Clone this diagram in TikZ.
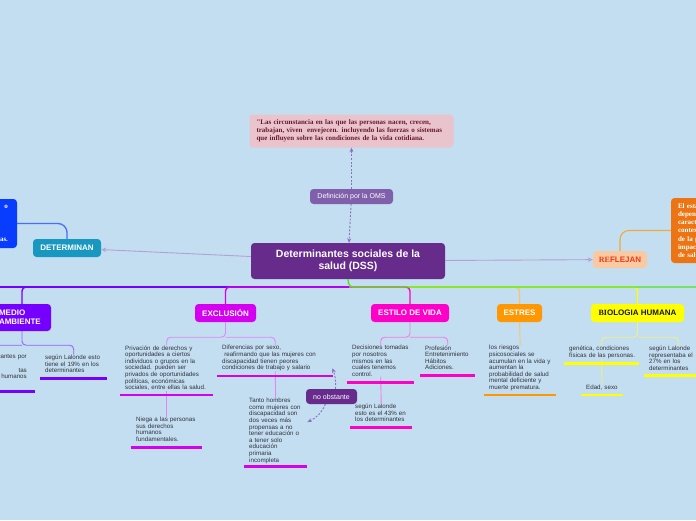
\documentclass[tikz,border=0pt]{standalone}
\usepackage{fontspec}
\setmainfont{Liberation Sans}
\newfontfamily\seriffam{Liberation Serif}
\usetikzlibrary{arrows.meta}
\definecolor{bgc}{RGB}{195,222,240}
\definecolor{quotefill}{RGB}{233,196,204}
\definecolor{quotetext}{RGB}{105,25,45}
\definecolor{defc}{RGB}{128,96,170}
\definecolor{dssc}{RGB}{103,43,140}
\definecolor{detc}{RGB}{24,152,192}
\definecolor{bluec}{RGB}{8,60,255}
\definecolor{bluel}{RGB}{70,110,255}
\definecolor{refc}{RGB}{248,201,162}
\definecolor{reftext}{RGB}{235,60,15}
\definecolor{orangec}{RGB}{236,116,18}
\definecolor{orangel}{RGB}{240,170,60}
\definecolor{medc}{RGB}{118,0,255}
\definecolor{excc}{RGB}{214,0,240}
\definecolor{estc}{RGB}{255,0,200}
\definecolor{strc}{RGB}{255,152,0}
\definecolor{bioc}{RGB}{255,255,0}
\definecolor{greenc}{RGB}{80,228,30}
\definecolor{relc}{RGB}{140,112,190}
\definecolor{arrc}{RGB}{178,160,215}
\definecolor{txtc}{RGB}{50,50,60}
\definecolor{medlc}{RGB}{150,95,255}
\definecolor{exclc}{RGB}{226,135,250}
\definecolor{estlc}{RGB}{246,120,230}
\definecolor{strlc}{RGB}{250,195,110}
\definecolor{biolc}{RGB}{240,240,130}
\definecolor{biotext}{RGB}{25,25,25}
\newcommand\fsmall{\fontsize{6.2}{6.6}\selectfont}
\newcommand\flab{\bfseries\fontsize{8}{9}\selectfont}
\newcommand\fser{\seriffam\bfseries\fontsize{7}{8.2}\selectfont}
\newcommand\ulin[3]{\draw[line width=2.6pt,#2] ([xshift=-5pt]#1.west |- 0,#3) -- ([xshift=5pt]#1.east |- 0,#3);}
\tikzset{
  box/.style={rounded corners=3.5pt, inner sep=0pt, align=center, text=white, font=\flab},
  txt/.style={inner sep=0pt, anchor=north west, align=left, text=txtc, font=\fsmall,
    execute at begin node={\rightskip=0pt plus 1fil minus 30pt\relax}},
  mainln/.style={line width=1.4pt, rounded corners=4pt},
  subln/.style={line width=0.9pt, rounded corners=4pt},
  rel/.style={relc, line width=0.9pt, dash pattern=on 2pt off 1.6pt, -{Stealth[length=4.5pt,width=4pt]}},
  link/.style={arrc, line width=0.9pt, -{Stealth[length=5pt,width=4.5pt]}}
}
\begin{document}
\begin{tikzpicture}[x=1pt,y=-1pt]
\useasboundingbox (0,0) rectangle (696,520);
\fill[bgc] (0,0) rectangle (696,520);
\clip (0,0) rectangle (696,520);

% ---- top part
\node[box, fill=quotefill, text=quotetext, minimum width=204, minimum height=33, text width=190, align=left, font=\fser] (quote) at (351.5,131)
  {"Las circunstancia en las que las personas nacen, crecen,\\trabajan, viven\ \ envejecen. incluyendo las fuerzas o sistemas\\que influyen sobre las condiciones de la vida cotidiana.};
\node[box, fill=defc, minimum width=83, minimum height=15, font=\fontsize{7}{8}\selectfont] (def) at (351.5,196.5) {Definición por la OMS};
\node[box, fill=dssc, minimum width=194, minimum height=36, font=\bfseries\fontsize{10.5}{11.7}\selectfont] (dss) at (348,261) {Determinantes sociales de la\\salud (DSS)};
\node[box, fill=detc, minimum width=68, minimum height=18] (det) at (67,248) {DETERMINAN};
\node[box, fill=bluec, minimum width=40, minimum height=49, text width=22, align=right, font=\fser] (blue) at (-3,223.5) {o\\\mbox{}\\\mbox{}\\\mbox{}\\as.};
\node[box, fill=refc, text=reftext, minimum width=54, minimum height=17] (ref) at (620,259.5) {{\seriffam RE}FLEJAN};
\node[box, fill=orangec, minimum width=60, minimum height=65, text width=46, align=left, font=\fser] (org) at (701,230.5)
  {El estado\\dependerá\\características\\contexto\\de la persona\\impactando\\de salud};

\draw[rel] (def) -- (quote);
\draw[rel] (def) -- (dss);
\draw[link] (dss) -- (det);
\draw[link] (dss) -- (ref);
\draw[bluel, line width=1.3pt, rounded corners=9pt] (det.north) |- (blue.east);
\draw[orangel, line width=1.1pt, rounded corners=9pt] (ref.north) |- (org.west);

% ---- main branches
\node[box, fill=medc, minimum width=58, minimum height=27, text width=46, align=left] (medio) at (22,317.5) {MEDIO\\AMBIENTE};
\node[box, fill=excc, minimum width=61, minimum height=18] (excl) at (225.5,313) {EXCLUSIÓN};
\node[box, fill=estc, minimum width=78, minimum height=18] (estilo) at (410,313) {ESTILO DE VIDA};
\node[box, fill=strc, minimum width=45, minimum height=18] (estres) at (519.5,313) {ESTRES};
\node[box, fill=bioc, text=biotext, minimum width=93, minimum height=18] (bio) at (637.5,313) {{\seriffam BI}OLOGIA HUMANA};
\node[box, fill=dssc, minimum width=51, minimum height=15, font=\fontsize{7}{8}\selectfont] (nob) at (331.5,396.5) {no obstante};

\coordinate (hub) at (349,287);
\coordinate (leftend) at (-5,287);
\coordinate (rightend) at (701,287);

\draw[mainln, medc] (leftend) -- (hub);
\draw[mainln, medc] (hub) -| (medio.north);
\draw[mainln, strlc] (hub) -| (estres.north);
\draw[mainln, bioc] (hub) -| (bio.north);
\draw[mainln, estc] (hub) -| (estilo.north);
\draw[mainln, excc] (hub) -| (excl.north);
\draw[mainln, greenc] (dss.south) -- (hub) -- (rightend);

% ---- text leaves
\node[txt, anchor=north east, text width=80, align=right, execute at begin node={\rightskip=0pt\relax}] (mleft) at (27,354.7) {cantes por\\\mbox{}\\tas\\humanos\\\mbox{}};
\node[txt, text width=57] (m19) at (45,354.7) {según Lalonde esto\\tiene el 19\% en los\\determinantes};
\node[txt, text width=83] (priv) at (125,345.3) {Privación de derechos y\\oportunidades a ciertos\\individuos o grupos en la\\sociedad. pueden ser\\privados de oportunidades\\políticas, económicas\\sociales, entre ellas la salud.};
\node[txt, text width=61] (niega) at (136,417) {Niega a las personas\\sus derechos\\humanos\\fundamentales.};
\node[txt, text width=106] (difer) at (222,345.3) {Diferencias por sexo,\\\ reafirmando que las mujeres con\\discapacidad tienen peores\\condiciones de trabajo y salario};
\node[txt, text width=53] (tanto) at (249,398) {Tanto hombres\\como mujeres con\\discapacidad son\\dos veces más\\propensas a no\\tener educación o\\a tener solo\\educación\\primaria\\incompleta};
\node[txt, text width=57] (decis) at (352,345.3) {Decisiones tomadas\\por nosotros\\mismos en las\\cuales tenemos\\control.};
\node[txt, text width=45] (profes) at (425,345.3) {Profesión\\Entretenimiento\\Hábitos\\Adiciones.};
\node[txt, text width=52] (lal43) at (355,403.7) {según Lalonde\\esto es el 43\% en\\los determinantes};
\node[txt, text width=62] (strtxt) at (489,345.3) {los riesgos\\psicosociales se\\acumulan en la vida y\\aumentan la\\probabilidad de salud\\mental deficiente y\\muerte prematura.};
\node[txt, text width=65] (gen) at (569,346) {genética, condiciones\\físicas de las personas.};
\node[txt, text width=31.7] (edad) at (586,384.3) {Edad, sexo};
\node[txt, text width=58] (lal27) at (649,346) {según Lalonde\\representaba el\\27\% en los\\determinantes};

% ---- sub connectors
\draw[subln, medlc] (medio.south) -- ([yshift=-14pt]medio.south) -| (m19.north);
\draw[subln, medlc] ([yshift=-14pt]medio.south) -| (mleft.north);
\draw[subln, exclc] (excl.south) -- ([yshift=-15pt]excl.south) -| (priv.north);
\draw[subln, exclc] ([yshift=-15pt]excl.south) -| (difer.north);
\draw[subln, estlc] (estilo.south) -- ([yshift=-15pt]estilo.south) -| (decis.north);
\draw[subln, estlc] ([yshift=-15pt]estilo.south) -| (profes.north);
\draw[subln, strlc] (estres.south) -- (strtxt.north);
\draw[subln, biolc] (bio.south) -- ([yshift=-15pt]bio.south) -| (gen.north);
\draw[subln, biolc] ([yshift=-15pt]bio.south) -| (lal27.north);
\draw[subln, exclc] (priv.south) -- (niega.north);
\draw[subln, exclc] (difer.south) -- (tanto.north);
\draw[subln, estlc] (decis.south) -- (lal43.north);
\draw[subln, biolc] (gen.south) -- (edad.north);

% ---- relations of "no obstante"
\draw[rel] ([xshift=4pt]nob.north) to[bend right=12] ([xshift=4pt,yshift=3pt]difer.south east);
\draw[rel] ([xshift=-6pt]nob.south) to[bend left=20] ([xshift=5pt,yshift=-24pt]tanto.north east);

% ---- underlines
\draw[line width=2.6pt, medc] ([xshift=-5pt]mleft.west |- 0,391.7) -- ([xshift=8pt]mleft.east |- 0,391.7);
\ulin{m19}{medc}{378.3}
\ulin{priv}{excc}{395}
\ulin{niega}{excc}{447.7}
\ulin{difer}{excc}{376}
\ulin{tanto}{excc}{466.7}
\ulin{decis}{estc}{382.7}
\ulin{profes}{estc}{375.7}
\ulin{lal43}{estc}{427.3}
\ulin{strtxt}{strc}{395}
\ulin{gen}{bioc}{363.3}
\ulin{edad}{bioc}{395}
\ulin{lal27}{bioc}{375.7}
\end{tikzpicture}
\end{document}
